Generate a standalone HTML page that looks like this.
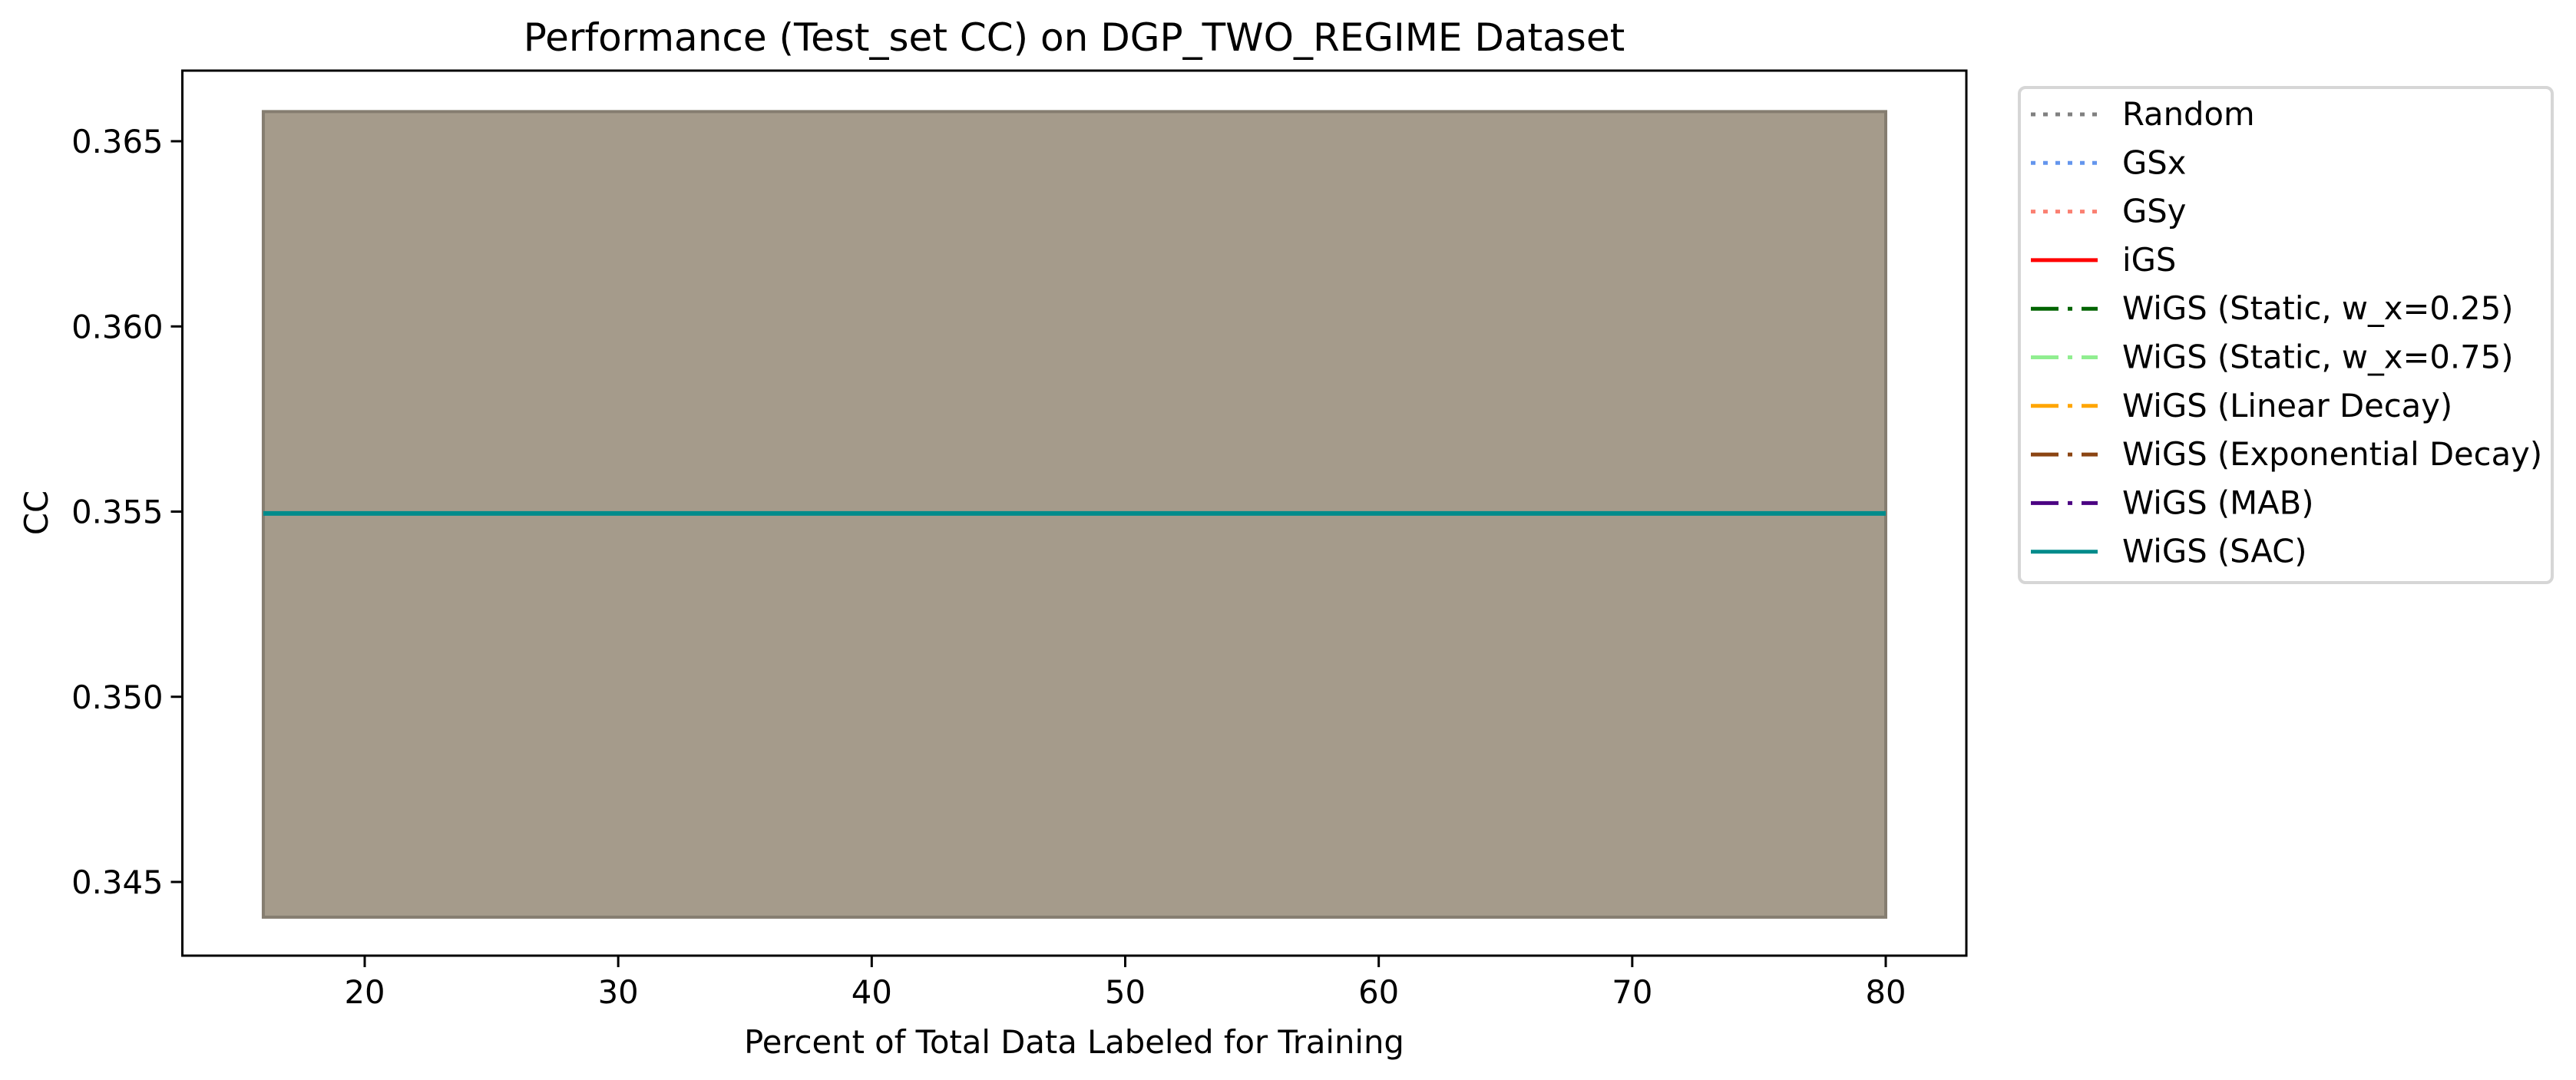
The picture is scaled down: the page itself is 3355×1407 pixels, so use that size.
<!DOCTYPE html>
<html><head><meta charset="utf-8"><style>
html,body{margin:0;padding:0;background:#fff}
svg{display:block;font-family:"DejaVu Sans","Liberation Sans",sans-serif}
</style></head><body>
<svg id="chart" width="3355" height="1407" viewBox="0 0 3355 1407" xmlns="http://www.w3.org/2000/svg">
<rect width="3355" height="1407" fill="#fff"/>
<text x="1399" y="66" font-size="50" text-anchor="middle">Performance (Test_set CC) on DGP_TWO_REGIME Dataset</text>
<g id="plot"></g>
<g id="axes"></g>
<text x="1399" y="1372" font-size="41.7" text-anchor="middle">Percent of Total Data Labeled for Training</text>
<text transform="translate(62,668) rotate(-90)" font-size="41.7" text-anchor="middle">CC</text>
<g id="legend"></g>
</svg>
<script>
const xVals = [16, 80];
const meanCC = [0.35495, 0.35495];
const lowerCC = [0.34405, 0.34405];
const upperCC = [0.36580, 0.36580];
const xTicks = [20, 30, 40, 50, 60, 70, 80];
const yTicks = [0.345, 0.350, 0.355, 0.360, 0.365];
const yTickLabels = ["0.345", "0.350", "0.355", "0.360", "0.365"];
const seriesNames = ["Random","GSx","GSy","iGS","WiGS (Static, w_x=0.25)","WiGS (Static, w_x=0.75)","WiGS (Linear Decay)","WiGS (Exponential Decay)","WiGS (MAB)","WiGS (SAC)"];

const NS="http://www.w3.org/2000/svg";
const L=237.5,R=2561,T=92,B=1245;
const x=v=>475+(v-20)*(2456-475)/60;
const y=v=>1149-(v-0.345)*(184-1149)/-0.02;
function mk(tag,attrs,parent){const e=document.createElementNS(NS,tag);for(const k in attrs)e.setAttribute(k,attrs[k]);parent.appendChild(e);return e;}
const plot=document.getElementById('plot'),axes=document.getElementById('axes'),leg=document.getElementById('legend');

let pts=xVals.map((v,i)=>x(v)+','+y(upperCC[i])).concat(xVals.map((v,i)=>x(v)+','+y(lowerCC[i])).reverse());
const band=mk('polygon',{points:pts.join(' '),fill:'#a59b8b',stroke:'#857d70','stroke-width':4},plot);


const line=mk('polyline',{points:xVals.map((v,i)=>x(v)+','+y(meanCC[i])).join(' '),fill:'none',stroke:'#008b8b','stroke-width':6},plot);



const frame=mk('rect',{x:L,y:T,width:R-L,height:B-T,fill:'none',stroke:'#000','stroke-width':3},axes);


xTicks.forEach(t=>{
  const tk=mk('line',{x1:x(t),x2:x(t),y1:B,y2:B+15,stroke:'#000','stroke-width':3},axes);
  
  
  const tx=mk('text',{x:x(t),y:B+62,'font-size':41.7,'text-anchor':'middle'},axes);tx.textContent=t;
  
  
});
yTicks.forEach((t,i)=>{
  const tk=mk('line',{x1:L-15,x2:L,y1:y(t),y2:y(t),stroke:'#000','stroke-width':3},axes);
  
  
  const tx=mk('text',{x:L-25,y:y(t)+15,'font-size':41.7,'text-anchor':'end'},axes);tx.textContent=yTickLabels[i];
  
  
});

const colors=['#808080','#6495ed','#fa8072','#ff0000','#006400','#90ee90','#ffa500','#8b4513','#4b0082','#008b8b'];
const dashes=['6,10','6,10','6,10','','36,12,6,12','36,12,6,12','36,12,6,12','36,12,6,12','36,12,6,12',''];
const box=mk('rect',{x:2630,y:114,width:694,height:645,rx:8,fill:'#fff',stroke:'#d6d6d6','stroke-width':4},leg);


seriesNames.forEach((n,i)=>{
  const yy=149+i*63.3;
  const g=mk('g',{},leg);
  
  
  mk('line',{x1:2645,x2:2732,y1:yy,y2:yy,stroke:colors[i],'stroke-width':5,'stroke-dasharray':dashes[i]},g);
  const t=mk('text',{x:2764,y:yy+14,'font-size':41.7},g);t.textContent=n;
});
</script>
</body></html>
